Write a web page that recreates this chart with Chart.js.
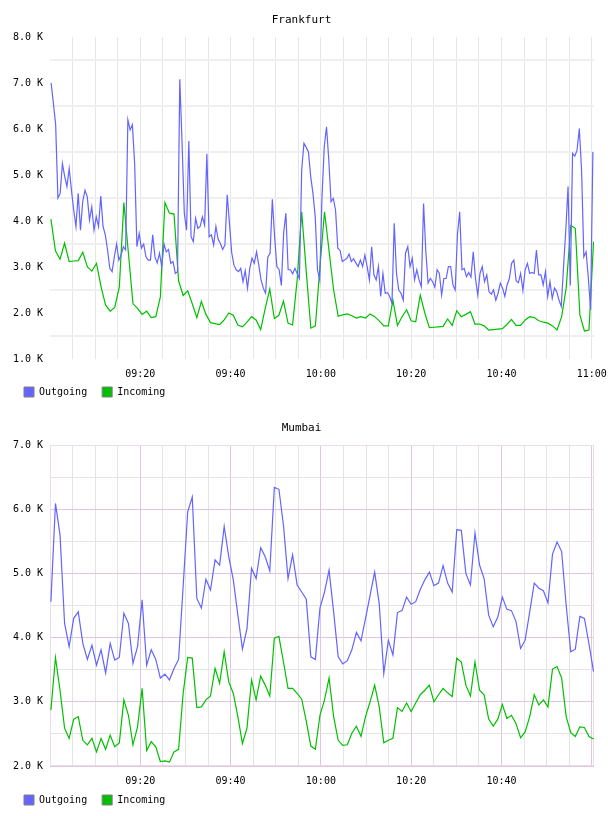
<!DOCTYPE html>
<html>
<head>
<meta charset="utf-8">
<script src="https://cdn.jsdelivr.net/npm/chart.js@4.4.1/dist/chart.umd.min.js"></script>
<style>
  html, body { margin: 0; padding: 0; background: #fff; }
  canvas { display: block; }
</style>
</head>
<body>
<canvas id="frankfurt" width="608" height="408"></canvas>
<canvas id="mumbai" width="608" height="408"></canvas>
<script>
// x axis is minutes after 09:00
const gridMinutes = [0, 5, 10, 15, 20, 25, 30, 35, 40, 45, 50, 55, 60,
  65, 70, 75, 80, 85, 90, 95, 100, 105, 110, 115, 120];
const xTickMinutes = [20, 40, 60, 80, 100, 120];
const frankfurtXLabels = ['09:20', '09:40', '10:00', '10:20', '10:40', '11:00'];
const mumbaiXLabels = ['09:20', '09:40', '10:00', '10:20', '10:40', ''];

// y axis in thousands
const frankfurtYValues = [1, 2, 3, 4, 5, 6, 7, 8];
const frankfurtYLabels = ['1.0 K', '2.0 K', '3.0 K', '4.0 K', '5.0 K', '6.0 K', '7.0 K', '8.0 K'];
const mumbaiYValues = [2, 3, 4, 5, 6, 7];
const mumbaiYLabels = ['2.0 K', '3.0 K', '4.0 K', '5.0 K', '6.0 K', '7.0 K'];

// Frankfurt outgoing, ~30 s samples
const frankfurtOut = [
  7.0, 6.56, 6.1, 4.5, 4.6, 5.25, 4.97, 4.75, 5.14, 4.67,
  4.24, 3.88, 4.6, 3.8, 4.42, 4.67, 4.53, 4.02, 4.31, 3.8,
  4.09, 3.88, 4.54, 3.88, 3.7, 3.37, 2.97, 2.9, 3.22, 3.5,
  3.15, 3.26, 3.44, 3.37, 6.2, 5.98, 6.09, 5.25, 3.44, 3.73,
  3.41, 3.5, 3.22, 3.15, 3.15, 3.7, 3.22, 3.09, 3.3, 3.01,
  3.5, 3.33, 3.38, 3.08, 3.12, 2.86, 2.9, 7.08, 5.7, 4.17,
  3.8, 5.74, 3.66, 3.55, 4.06, 3.84, 3.88, 4.09, 3.91, 5.46,
  3.66, 3.7, 3.48, 3.88, 3.6, 3.51, 3.38, 3.48, 4.57, 3.95,
  3.31, 3.04, 2.94, 2.9, 2.97, 2.68, 2.92, 2.54, 2.97, 3.19,
  3.08, 3.33, 3.04, 2.72, 2.54, 2.43, 3.22, 3.3, 4.47, 3.66,
  3.01, 2.94, 2.6, 3.73, 4.17, 2.94, 2.94, 2.85, 2.97, 2.86,
  2.75, 5.11, 5.69, 5.6, 5.5, 4.96, 4.6, 4.09, 2.94, 2.72,
  4.53, 5.62, 6.05, 5.33, 4.42, 4.49, 4.24, 3.41, 3.36, 3.12,
  3.15, 3.19, 3.28, 3.12, 3.18, 3.09, 3.01, 3.15, 3.01, 3.26,
  3.01, 2.72, 3.44, 2.83, 2.72, 3.01, 2.36, 2.86, 2.43, 2.44,
  2.36, 2.21, 3.95, 2.86, 2.5, 2.43, 2.28, 3.3, 3.44, 3.01,
  3.19, 2.72, 2.94, 2.72, 2.57, 4.38, 3.33, 2.65, 2.75, 2.68,
  2.56, 2.94, 2.86, 2.39, 2.75, 2.75, 3.01, 3.01, 2.61, 2.5,
  3.7, 4.2, 2.94, 2.97, 2.79, 2.88, 2.78, 3.33, 2.75, 2.39,
  2.86, 3.01, 2.68, 2.83, 2.46, 2.41, 2.5, 2.28, 2.43, 2.65,
  2.54, 2.36, 2.61, 2.75, 3.08, 3.15, 2.7, 2.66, 2.86, 2.49,
  2.94, 3.08, 2.86, 2.88, 2.86, 3.37, 2.83, 2.83, 2.61, 2.9,
  2.36, 2.68, 2.32, 2.54, 2.46, 2.28, 2.14, 3.0, 3.8, 4.75,
  2.6, 5.47, 5.41, 5.54, 6.01, 5.11, 3.22, 3.33, 2.75, 2.07,
  5.5
];

// Frankfurt incoming, ~1 min samples
const frankfurtIn = [
  4.04, 3.35, 3.17, 3.52, 3.12, 3.13, 3.14, 3.32, 3.0, 2.91,
  3.08, 2.57, 2.17, 2.04, 2.12, 2.56, 4.4, 3.3, 2.2, 2.1,
  1.97, 2.04, 1.9, 1.92, 2.35, 4.4, 4.17, 4.15, 2.7, 2.38,
  2.48, 2.2, 1.9, 2.25, 1.97, 1.79, 1.77, 1.75, 1.85, 2.0,
  1.95, 1.74, 1.7, 1.8, 1.92, 1.85, 1.64, 2.1, 2.52, 1.88,
  1.95, 2.26, 1.78, 1.74, 2.72, 4.2, 2.9, 1.67, 1.72, 3.0,
  4.2, 3.35, 2.5, 1.93, 1.96, 1.98, 1.94, 1.89, 1.92, 1.89,
  1.98, 1.92, 1.83, 1.72, 1.72, 2.28, 1.73, 1.92, 2.07, 1.83,
  1.81, 2.39, 2.0, 1.68, 1.69, 1.7, 1.71, 1.87, 1.73, 2.05,
  1.92, 1.97, 2.03, 1.76, 1.76, 1.72, 1.63, 1.64, 1.65, 1.66,
  1.75, 1.86, 1.73, 1.73, 1.85, 1.92, 1.9, 1.83, 1.8, 1.78,
  1.72, 1.63, 1.92, 2.54, 3.9, 3.84, 1.96, 1.61, 1.63, 3.55
];

// Mumbai, ~1 min samples
const mumbaiOut = [
  4.56, 6.09, 5.6, 4.22, 3.86, 4.3, 4.4, 3.91, 3.66, 3.88,
  3.57, 3.81, 3.45, 3.91, 3.65, 3.69, 4.38, 4.22, 3.6, 3.86,
  4.59, 3.57, 3.81, 3.66, 3.37, 3.43, 3.34, 3.52, 3.66, 4.8,
  5.96, 6.19, 4.61, 4.46, 4.91, 4.74, 5.21, 5.13, 5.73, 5.26,
  4.9, 4.35, 3.82, 4.14, 5.08, 4.92, 5.4, 5.26, 5.04, 6.34,
  6.31, 5.75, 4.92, 5.29, 4.82, 4.71, 4.6, 3.7, 3.66, 4.46,
  4.71, 5.05, 4.4, 3.7, 3.59, 3.64, 3.81, 4.08, 3.95, 4.3,
  4.66, 5.02, 4.53, 3.44, 3.96, 3.73, 4.39, 4.42, 4.63, 4.52,
  4.56, 4.75, 4.9, 5.02, 4.81, 4.85, 5.12, 4.85, 4.71, 5.68,
  5.67, 5.0, 4.82, 5.63, 5.13, 4.92, 4.35, 4.17, 4.32, 4.63,
  4.44, 4.42, 4.25, 3.83, 3.96, 4.4, 4.85, 4.77, 4.73, 4.54,
  5.3, 5.49, 5.34, 4.5, 3.78, 3.82, 4.33, 4.3, 3.9, 3.47
];
const mumbaiIn = [
  2.87, 3.69, 3.18, 2.59, 2.43, 2.73, 2.77, 2.4, 2.33, 2.43,
  2.22, 2.43, 2.26, 2.48, 2.3, 2.36, 3.03, 2.79, 2.33, 2.61,
  3.21, 2.24, 2.38, 2.3, 2.07, 2.08, 2.06, 2.22, 2.26, 3.13,
  3.69, 3.68, 2.91, 2.92, 3.03, 3.09, 3.52, 3.29, 3.78, 3.31,
  3.13, 2.77, 2.35, 2.59, 3.34, 3.03, 3.4, 3.26, 3.09, 3.99,
  4.02, 3.62, 3.21, 3.21, 3.13, 3.04, 2.7, 2.31, 2.26, 2.79,
  3.03, 3.37, 2.77, 2.4, 2.32, 2.33, 2.51, 2.62, 2.46, 2.77,
  3.0, 3.26, 2.92, 2.36, 2.4, 2.43, 2.91, 2.85, 2.98, 2.85,
  2.98, 3.11, 3.18, 3.26, 3.0, 3.11, 3.21, 3.14, 3.08, 3.68,
  3.62, 3.26, 3.09, 3.62, 3.18, 3.11, 2.73, 2.62, 2.73, 2.96,
  2.74, 2.79, 2.66, 2.44, 2.53, 2.77, 3.11, 2.95, 3.03, 2.92,
  3.51, 3.55, 3.37, 2.77, 2.52, 2.46, 2.61, 2.6, 2.46, 2.42
];

const FONT = "'DejaVu Sans Mono', monospace";
const BLUE = '#6464ff';
const GREEN = '#00c000';
const CLEAR = 'rgba(0,0,0,0)';
const PINK = '#dfc6df';

// samples are spread evenly between first and last time (minutes)
function toPoints(values, first, last) {
  const step = (last - first) / (values.length - 1);
  return values.map((v, i) => ({ x: first + i * step, y: v }));
}

function frame(color) {
  return {
    id: 'frame',
    beforeDatasetsDraw(chart) {
      const a = chart.chartArea;
      const c = chart.ctx;
      c.save();
      c.strokeStyle = color;
      c.lineWidth = 1;
      c.strokeRect(a.left + 0.5, a.top + 0.5, a.right - a.left - 1, a.bottom - a.top - 1);
      c.restore();
    }
  };
}

// legend sits tight under the time labels, so pull it up a little after layout
const liftLegend = {
  id: 'liftLegend',
  afterLayout(chart) {
    chart.legend.top -= 8;
    chart.legend.bottom -= 8;
  }
};

function lineSet(label, data, color) {
  return {
    label: label, data: data, borderColor: color, backgroundColor: color,
    borderWidth: 1.2, pointRadius: 0, tension: 0, fill: false
  };
}

function buildChart(id, cfg) {
  const extra = [liftLegend];
  if (cfg.frameColor) extra.push(frame(cfg.frameColor));
  return new Chart(document.getElementById(id), {
    type: 'line',
    data: {
      datasets: [
        lineSet('Outgoing', cfg.outgoing, BLUE),
        lineSet('Incoming', cfg.incoming, GREEN)
      ]
    },
    options: {
      responsive: false,
      animation: false,
      devicePixelRatio: 1,
      layout: { padding: { left: 9, right: 14, top: 0, bottom: 1 } },
      plugins: {
        title: {
          display: true, text: cfg.title, color: '#000',
          font: { family: FONT, size: 11, weight: 'normal' },
          padding: { top: 13.4, bottom: 10.4 }
        },
        legend: {
          position: 'bottom', align: 'start', maxHeight: 27,
          labels: {
            boxWidth: 10, boxHeight: 10, padding: 15, color: '#000',
            font: { family: FONT, size: 10 },
            generateLabels: chart => chart.data.datasets.map((ds, i) => ({
              text: ds.label, fillStyle: ds.borderColor, strokeStyle: '#808080',
              lineWidth: 1, datasetIndex: i, hidden: false
            }))
          }
        },
        tooltip: { enabled: false }
      },
      scales: {
        x: {
          type: 'linear', min: 0, max: 120.5,
          afterBuildTicks: s => { s.ticks = gridMinutes.map(v => ({ value: v })); },
          afterFit: s => { s.height = cfg.xAxisHeight; s.paddingLeft = 0; s.paddingRight = 0; },
          border: { display: false },
          grid: { drawTicks: false, lineWidth: 1, color: cfg.xGrid },
          ticks: {
            autoSkip: false, maxRotation: 0, padding: 9, color: '#000',
            font: { family: FONT, size: 10 },
            callback: v => {
              const i = xTickMinutes.indexOf(v);
              return i < 0 ? '' : cfg.xLabels[i];
            }
          }
        },
        y: {
          min: cfg.yValues[0], max: cfg.yValues[cfg.yValues.length - 1],
          afterFit: s => { s.width = 41; },
          border: { display: false },
          grid: { drawTicks: false, lineWidth: cfg.yGridWidth, color: cfg.yGrid },
          ticks: {
            stepSize: 0.5, padding: 7, color: '#000',
            font: { family: FONT, size: 10 },
            callback: v => {
              const i = cfg.yValues.indexOf(v);
              return i < 0 ? '' : cfg.yLabels[i];
            }
          }
        }
      }
    },
    plugins: extra
  });
}

buildChart('frankfurt', {
  title: 'Frankfurt',
  outgoing: toPoints(frankfurtOut, 0.25, 120.25),
  incoming: toPoints(frankfurtIn, 0.2, 120.4),
  xLabels: frankfurtXLabels,
  yValues: frankfurtYValues,
  yLabels: frankfurtYLabels,
  xAxisHeight: 21,
  xGrid: c => c.tick.value === 0 ? CLEAR : '#e6e6e6',
  yGrid: c => Number.isInteger(c.tick.value) ? CLEAR : '#efefef',
  yGridWidth: 2,
  frameColor: null
});

buildChart('mumbai', {
  title: 'Mumbai',
  outgoing: toPoints(mumbaiOut, 0.2, 120.4),
  incoming: toPoints(mumbaiIn, 0.2, 120.4),
  xLabels: mumbaiXLabels,
  yValues: mumbaiYValues,
  yLabels: mumbaiYLabels,
  xAxisHeight: 22,
  xGrid: c => c.tick.value % 20 === 0 ? PINK : '#e4e4e4',
  yGrid: c => Number.isInteger(c.tick.value) ? PINK : '#e4e4e4',
  yGridWidth: 1,
  frameColor: '#ecdcec'
});
</script>
</body>
</html>
